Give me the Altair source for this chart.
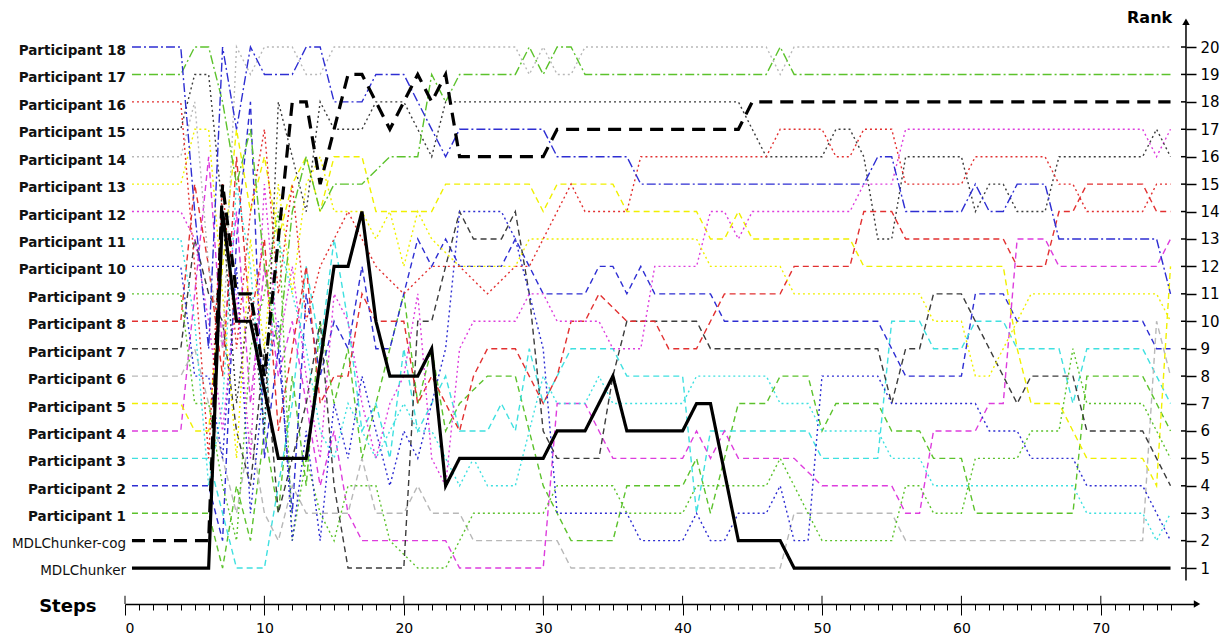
import altair as alt
import pandas as pd

# ---------------- data (step, rank) breakpoints ----------------
series_names = ["MDLChunker", "MDLChunker-cog"] + [f"Participant {i}" for i in range(1, 19)]
start_rank = list(range(1, 21))

mdl = [(0.5,1),(6,1),(7,14),(8,10),(9,10),(11,5),(13,5),(15,12),(16,12),(17,14),(18,10),(19,8),(21,8),(22,9),(23,4),(24,5),(30,5),(31,6),(33,6),(35,8),(36,6),(40,6),(41,7),(42,7),(44,2),(47,2),(48,1),(75,1)]
cog = [(0.5,2),(6,2),(7,15),(8,11),(9,11),(10,8),(12,18),(13,18),(14,15),(16,19),(17,19),(19,17),(21,19),(22,18),(23,19),(24,16),(30,16),(31,17),(44,17),(45,18),(75,18)]
p1 = [(0.5,3),(6,3),(7,1),(8,4),(9,2),(10,6),(11,3),(12,8),(13,4),(14,10),(15,7),(16,9),(17,5),(18,7),(19,9),(20,11),(21,7),(22,9),(23,6),(24,7),(26,8),(28,8),(29,6),(30,4),(31,3),(32,2),(35,2),(36,4),(40,4),(41,5),(42,3),(43,5),(44,7),(46,7),(47,8),(49,8),(50,6),(51,7),(54,7),(55,6),(57,6),(58,5),(60,5),(61,3),(68,3),(69,8),(73,8),(74,7),(75,6)]
p2 = [(0.5,4),(6,4),(7,2),(8,13),(9,18),(10,5),(11,9),(12,3),(13,11),(14,8),(15,10),(16,9),(17,12),(18,9),(19,9),(20,11),(21,13),(22,12),(23,13),(24,12),(27,12),(28,13),(29,12),(30,11),(33,11),(34,12),(35,12),(36,11),(37,12),(38,11),(42,11),(43,10),(54,10),(55,9),(56,8),(60,8),(61,11),(63,11),(64,10),(73,10),(74,9),(75,9)]
p3 = [(0.5,5),(6,5),(7,3),(8,1),(10,1),(11,4),(12,7),(13,12),(14,9),(15,13),(16,10),(17,6),(18,7),(19,5),(20,9),(21,6),(22,7),(23,8),(24,6),(26,6),(27,7),(28,6),(29,9),(30,7),(31,8),(32,9),(35,9),(36,8),(40,8),(41,3),(42,6),(49,6),(50,5),(54,5),(55,10),(57,10),(58,9),(60,9),(61,10),(63,10),(64,9),(67,9),(68,7),(69,9),(73,9),(74,8),(75,7)]
p4 = [(0.5,6),(4,6),(5,11),(6,16),(7,9),(8,14),(9,7),(10,12),(11,8),(12,10),(13,7),(14,4),(15,6),(16,3),(17,2),(23,2),(24,1),(30,1),(31,7),(33,7),(34,6),(35,5),(40,5),(41,6),(42,5),(43,6),(44,5),(48,5),(50,4),(55,4),(56,3),(57,3),(58,6),(61,6),(62,7),(63,7),(64,13),(66,13),(67,12),(74,12),(75,13)]
p5 = [(0.5,7),(4,7),(5,6),(6,6),(7,12),(8,17),(9,14),(10,16),(11,13),(12,15),(13,16),(14,14),(15,16),(17,16),(18,14),(22,14),(23,15),(29,15),(30,14),(31,15),(35,15),(36,14),(41,14),(42,13),(43,13),(44,14),(45,13),(52,13),(53,12),(63,12),(64,9),(65,7),(67,7),(68,6),(69,5),(73,5),(74,4),(75,12)]
p6 = [(0.5,8),(4,8),(5,9),(6,7),(7,5),(8,3),(9,6),(10,3),(11,2),(12,4),(13,3),(16,3),(17,5),(18,3),(20,3),(21,4),(22,3),(24,3),(25,2),(31,2),(32,1),(47,1),(48,3),(55,3),(56,2),(73,2),(74,10),(75,8)]
p7 = [(0.5,9),(4,9),(5,13),(6,11),(7,10),(8,6),(9,4),(10,9),(11,3),(12,5),(13,7),(14,10),(15,4),(16,1),(20,1),(21,10),(22,10),(23,12),(24,14),(25,13),(27,13),(28,14),(29,11),(30,6),(31,5),(34,5),(35,8),(36,10),(38,10),(39,10),(41,10),(42,9),(54,9),(55,7),(56,9),(57,9),(58,11),(60,11),(61,10),(62,9),(63,8),(64,7),(65,8),(68,8),(69,6),(73,6),(74,5),(75,4)]
p8 = [(0.5,10),(4,10),(5,15),(6,12),(7,8),(8,16),(9,10),(10,13),(11,6),(12,9),(13,12),(14,7),(15,8),(16,8),(17,11),(18,10),(20,10),(21,7),(22,8),(23,7),(24,6),(25,8),(26,9),(28,9),(29,8),(30,7),(31,8),(32,10),(33,10),(34,11),(36,10),(38,10),(39,9),(41,9),(42,10),(43,11),(47,11),(48,12),(52,12),(53,14),(55,14),(56,13),(63,13),(64,12),(66,12),(67,14),(68,14),(69,15),(73,15),(74,14),(75,14)]
p9 = [(0.5,11),(4,11),(5,7),(6,7),(7,4),(8,2),(9,9),(10,11),(11,14),(12,2),(13,5),(14,3),(15,2),(16,4),(18,4),(19,2),(21,1),(23,1),(24,2),(25,3),(30,3),(31,4),(35,4),(36,3),(40,3),(41,4),(46,4),(47,5),(48,4),(49,3),(50,2),(55,2),(56,4),(57,4),(58,3),(60,3),(61,5),(64,5),(65,6),(67,6),(68,9),(69,7),(73,7),(74,6),(75,5)]
p10 = [(0.5,12),(4,12),(5,8),(6,8),(7,5),(8,12),(9,3),(10,8),(11,10),(12,2),(13,6),(14,2),(15,7),(16,5),(17,8),(18,6),(19,4),(20,6),(21,5),(22,7),(23,9),(24,14),(27,14),(28,13),(29,11),(30,9),(31,3),(36,3),(37,2),(40,2),(41,3),(42,2),(43,2),(44,3),(46,3),(47,4),(48,2),(49,2),(50,8),(54,8),(55,7),(61,7),(62,6),(64,6),(65,5),(68,5),(69,4),(73,4),(74,3),(75,2)]
p11 = [(0.5,13),(4,13),(5,10),(6,4),(7,7),(8,15),(9,12),(10,6),(11,13),(12,11),(13,9),(14,6),(15,5),(16,7),(17,6),(18,5),(19,6),(20,7),(21,6),(22,6),(24,4),(25,5),(26,4),(28,4),(29,6),(30,8),(31,7),(33,7),(34,8),(35,7),(40,7),(41,8),(46,8),(47,7),(49,7),(50,6),(54,6),(55,5),(57,5),(58,4),(68,4),(69,3),(73,3),(74,2),(75,3)]
p12 = [(0.5,14),(4,14),(5,13),(6,10),(7,6),(8,11),(9,5),(10,15),(11,9),(12,12),(13,8),(14,5),(15,11),(16,10),(17,7),(18,5),(19,7),(20,8),(21,11),(22,5),(23,4),(24,9),(25,10),(28,10),(29,11),(30,11),(31,10),(34,10),(35,9),(37,9),(38,12),(41,12),(42,14),(43,14),(44,13),(45,14),(52,14),(53,15),(55,15),(56,17),(73,17),(74,16),(75,17)]
p13 = [(0.5,15),(4,15),(5,17),(6,17),(7,11),(8,5),(9,13),(10,9),(11,15),(12,11),(13,15),(14,16),(15,14),(17,14),(18,13),(19,14),(20,12),(21,14),(22,13),(24,12),(28,12),(29,13),(36,13),(41,13),(42,12),(47,12),(48,11),(57,11),(58,10),(60,10),(61,8),(62,8),(63,9),(64,10),(65,11),(73,11),(74,11),(75,10)]
p14 = [(0.5,16),(4,16),(5,18),(6,12),(7,9),(8,20),(9,19),(10,20),(12,20),(13,19),(14,19),(15,20),(28,20),(29,19),(30,20),(31,19),(32,19),(33,20),(46,20),(47,19),(48,20),(75,20)]
p15 = [(0.5,17),(4,17),(5,19),(6,19),(7,14),(8,7),(9,11),(10,6),(11,18),(12,16),(13,14),(14,18),(15,17),(17,17),(18,18),(20,18),(21,17),(22,16),(23,18),(44,18),(45,17),(46,16),(50,16),(51,17),(52,17),(53,16),(54,13),(55,13),(56,16),(60,16),(61,14),(62,15),(63,15),(64,14),(66,14),(67,16),(73,16),(74,17),(75,16)]
p16 = [(0.5,18),(4,18),(5,12),(6,5),(7,15),(8,9),(9,14),(10,17),(11,11),(12,15),(13,10),(14,12),(15,13),(16,14),(18,12),(20,11),(22,12),(24,12),(26,11),(28,12),(29,12),(30,13),(31,14),(32,15),(33,14),(36,14),(37,16),(46,16),(47,17),(50,17),(51,16),(52,16),(53,17),(55,17),(56,15),(60,15),(61,16),(66,16),(67,15),(68,15),(69,14),(73,14),(74,15),(75,15)]
p17 = [(0.5,19),(4,19),(5,20),(6,20),(7,18),(8,15),(9,17),(10,12),(11,9),(12,14),(13,16),(14,14),(15,15),(17,15),(19,16),(21,16),(22,19),(23,18),(24,19),(28,19),(29,20),(30,19),(31,20),(32,20),(33,19),(46,19),(47,20),(48,19),(75,19)]
p18 = [(0.5,20),(4,20),(5,14),(6,9),(7,20),(8,17),(9,20),(10,19),(12,19),(13,20),(14,20),(15,18),(17,18),(18,19),(20,19),(21,18),(23,16),(24,17),(30,17),(31,16),(36,16),(37,15),(53,15),(54,16),(55,16),(56,14),(60,14),(61,15),(62,14),(63,14),(64,15),(66,15),(67,13),(74,13),(75,11)]

all_points = [mdl, cog, p1, p2, p3, p4, p5, p6, p7, p8, p9, p10, p11, p12, p13, p14, p15, p16, p17, p18]

# ---------------- styles ----------------
GREEN, BLUE, CYAN, MAGENTA = "#5cc22c", "#2e2ed2", "#3fe0e0", "#dd3ddd"
YELLOW, LGRAY, DGRAY, RED = "#f0f000", "#b8b8b8", "#3c3c3c", "#e23030"
cycle = [GREEN, BLUE, CYAN, MAGENTA, YELLOW, LGRAY, DGRAY, RED]
DASHED, DOTTED, DASHDOT = [6, 4], [2, 3], [9, 3, 2, 3]
series_colors = ["#000000", "#000000"] + cycle + cycle + [GREEN, BLUE]
series_dash = [[1, 0], [13, 8]] + [DASHED] * 8 + [DOTTED] * 8 + [DASHDOT] * 2

rows = []
for name, pts in zip(series_names, all_points):
    for i, (s, r) in enumerate(pts):
        rows.append({"series": name, "step": s, "rank": r, "ord": i})
df = pd.DataFrame(rows)
part_df = df[df["series"].str.startswith("Participant")]
mdl_df = df[~df["series"].str.startswith("Participant")]

labels_df = pd.DataFrame({"series": series_names, "step": [0] * 20, "rank": start_rank})

X_MAX = 76.9
Y_MIN, Y_MAX = -0.31, 20.62
Y_AXIS_STEP = 76.11

FONT = "DejaVu Sans"

x_scale = alt.Scale(domain=[0, X_MAX], nice=False, zero=False)
y_scale = alt.Scale(domain=[Y_MIN, Y_MAX], nice=False, zero=False)

x_axis = alt.Axis(
    values=list(range(0, 76)), title=None, grid=False,
    labelExpr="datum.value % 10 === 0 ? datum.label : ''",
    labelOverlap=False, labelFont=FONT, labelFontSize=14, labelColor="#000",
    labelPadding=6, domainColor="#000", domainWidth=1.5, tickColor="#000", tickWidth=1,
    tickSize={"condition": {"test": "datum.value % 10 === 0", "value": 11}, "value": 6},
)
y_axis = alt.Axis(
    orient="right", offset=-11, values=list(range(1, 21)), title=None, grid=False,
    domain=False, tickColor="#000", tickWidth=1.5, tickSize=10,
    labelFont=FONT, labelFontSize=15, labelColor="#000", labelPadding=4,
)

def X(field="step"):
    return alt.X(f"{field}:Q", scale=x_scale, axis=x_axis)

def Y(field="rank"):
    return alt.Y(f"{field}:Q", scale=y_scale, axis=y_axis)

color_scale = alt.Scale(domain=series_names, range=series_colors)
dash_scale = alt.Scale(domain=series_names, range=series_dash)

participants = alt.Chart(part_df).mark_line(strokeWidth=1.4, clip=False).encode(
    x=X(), y=Y(),
    color=alt.Color("series:N", scale=color_scale, legend=None),
    strokeDash=alt.StrokeDash("series:N", scale=dash_scale, legend=None),
    detail="series:N",
    order=alt.Order("ord:Q"),
)

mdl_lines = alt.Chart(mdl_df).mark_line(strokeWidth=3.2).encode(
    x=X(), y=Y(),
    color=alt.Color("series:N", scale=color_scale, legend=None),
    strokeDash=alt.StrokeDash("series:N", scale=dash_scale, legend=None),
    detail="series:N",
    order=alt.Order("ord:Q"),
)

part_labels = alt.Chart(labels_df[labels_df["series"].str.startswith("Participant")]).mark_text(
    align="right", baseline="middle", dx=1, dy=4, font=FONT, fontSize=13.5, fontWeight="bold", color="#111"
).encode(x=X(), y=Y(), text="series:N")

mdl_labels = alt.Chart(labels_df[~labels_df["series"].str.startswith("Participant")]).mark_text(
    align="right", baseline="middle", dx=1, dy=3, font=FONT, fontSize=13.5, color="#111"
).encode(x=X(), y=Y(), text="series:N")

# axis decorations
yline_df = pd.DataFrame({"step": [Y_AXIS_STEP], "rank": [0.55], "rank2": [20.85]})
y_line = alt.Chart(yline_df).mark_rule(color="#000", strokeWidth=1.5).encode(
    x=X(), y=Y(), y2="rank2:Q")
inner_tick_df = pd.DataFrame({"rank": list(range(1, 21)), "step": [Y_AXIS_STEP - 0.36] * 20, "step2": [Y_AXIS_STEP] * 20})
inner_ticks = alt.Chart(inner_tick_df).mark_rule(color="#000", strokeWidth=1.5).encode(
    x=X(), x2="step2:Q", y=Y())
arrow_up = alt.Chart(pd.DataFrame({"step": [Y_AXIS_STEP], "rank": [20.92]})).mark_point(
    shape="triangle-up", filled=True, size=55, color="#000", opacity=1).encode(x=X(), y=Y())
arrow_right = alt.Chart(pd.DataFrame({"step": [X_MAX], "rank": [Y_MIN]})).mark_point(
    shape="triangle-right", filled=True, size=55, color="#000", opacity=1).encode(x=X(), y=Y())
major_df = pd.DataFrame({"step": list(range(0, 71, 10)), "rank": [Y_MIN] * 8, "rank2": [Y_MIN + 0.3] * 8})
major_up = alt.Chart(major_df).mark_rule(color="#000", strokeWidth=1).encode(x=X(), y=Y(), y2="rank2:Q")

rank_title = alt.Chart(pd.DataFrame({"step": [73.5], "rank": [21.05], "t": ["Rank"]})).mark_text(
    font=FONT, fontSize=16, fontWeight="bold", color="#000", align="center", baseline="middle"
).encode(x=X(), y=Y(), text="t:N")
steps_title = alt.Chart(pd.DataFrame({"step": [-4.1], "rank": [-0.42], "t": ["Steps"]})).mark_text(
    font=FONT, fontSize=18, fontWeight="bold", color="#000", align="center", baseline="middle"
).encode(x=X(), y=Y(), text="t:N")

chart = alt.layer(
    participants, mdl_lines, part_labels, mdl_labels,
    y_line, inner_ticks, arrow_up, arrow_right, major_up, rank_title, steps_title,
).properties(
    width=1072, height=574,
    autosize=alt.AutoSizeParams(type="none"),
    padding={"left": 117, "top": 22, "right": 26, "bottom": 31},
).configure_view(stroke=None)

chart.save("out.html", embed_options={"renderer": "svg", "actions": False})
